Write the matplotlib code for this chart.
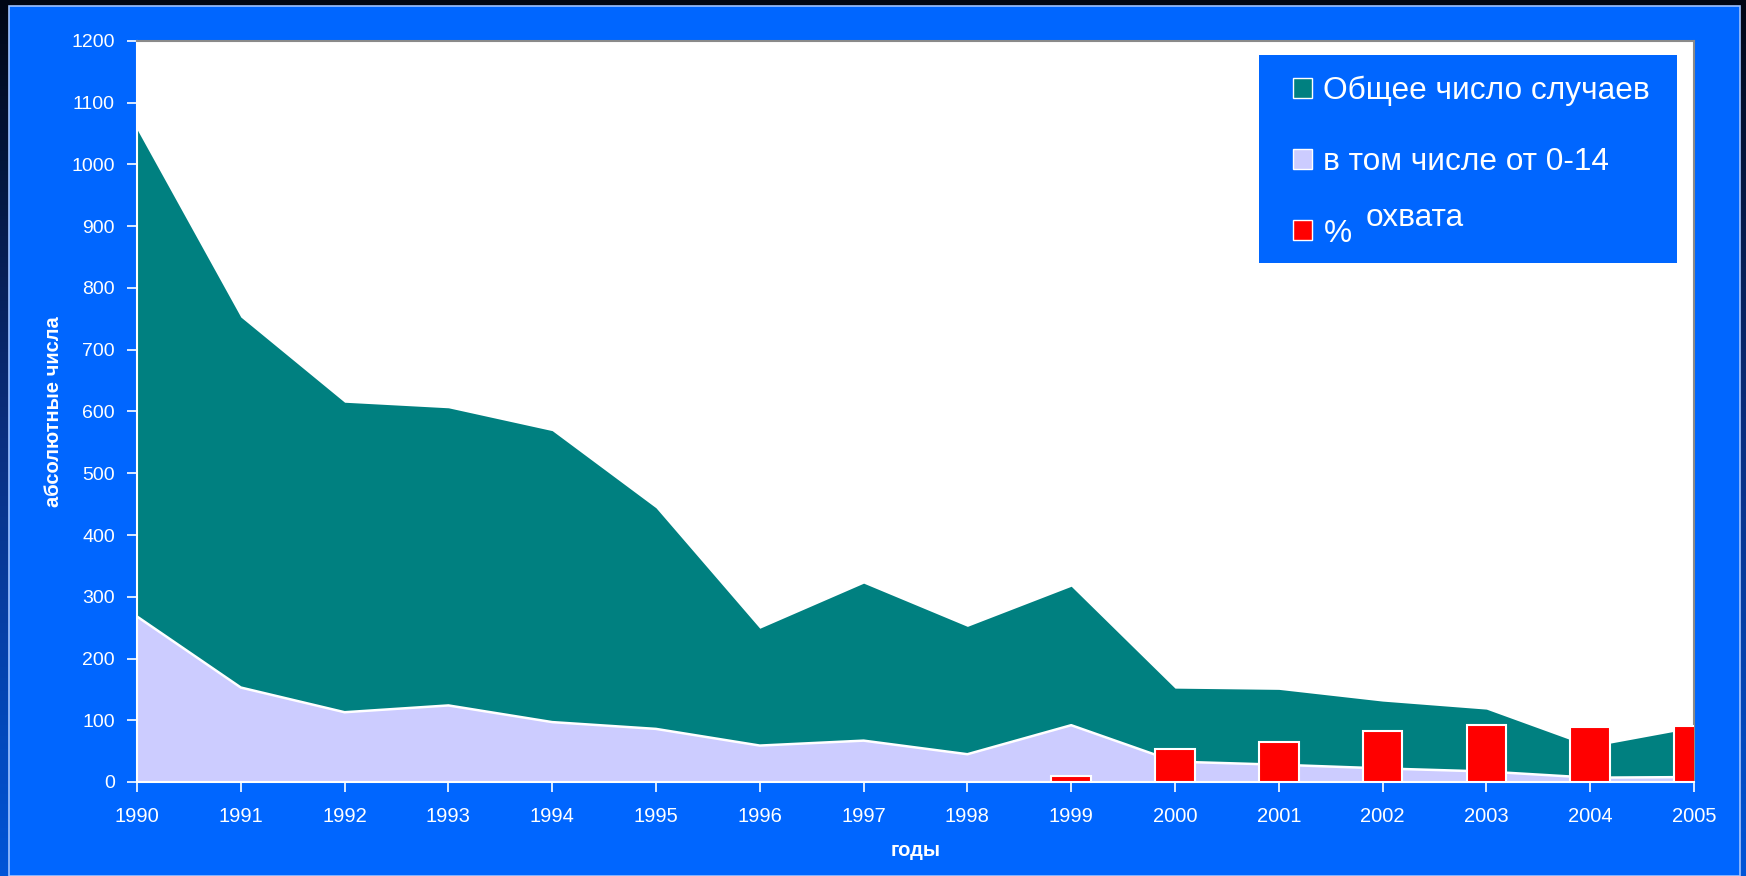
import numpy as np
import matplotlib
matplotlib.use("Agg")
import matplotlib.pyplot as plt
from matplotlib.patches import Patch, Rectangle

plt.rcParams['font.family'] = ['Liberation Sans', 'DejaVu Sans']

# --- DATA ---
years = [1990, 1991, 1992, 1993, 1994, 1995, 1996, 1997,
         1998, 1999, 2000, 2001, 2002, 2003, 2004, 2005]
total_cases = [1057, 753, 615, 606, 569, 444, 249, 322,
               252, 317, 152, 150, 131, 118, 57, 88]
cases_0_14 = [268, 153, 113, 124, 97, 86, 59, 67,
              45, 92, 33, 28, 22, 17, 7, 8]
coverage_years = [1999, 2000, 2001, 2002, 2003, 2004, 2005]
coverage_pct = [10, 54, 65, 82, 93, 89, 91]

BLUE = "#0066FF"
TEAL = "#008080"
LAVENDER = "#CCCCFF"
RED = "#FF0000"

# --- FIGURE / BACKGROUND ---
fig = plt.figure(figsize=(17.46, 8.76), dpi=100)
bg = fig.add_axes([0, 0, 1, 1], zorder=-10)
grad = np.linspace(0, 1, 256).reshape(-1, 1)
bg.imshow(grad, aspect="auto", extent=[0, 1, 0, 1],
          cmap=matplotlib.colors.LinearSegmentedColormap.from_list(
              "edge", ["#000614", "#0a2f80", "#0055d8"]))
bg.add_patch(Rectangle((9 / 1746, 0), (1740 - 9) / 1746, (876 - 6) / 876,
                       facecolor=BLUE, edgecolor="#9ec2ff", linewidth=1.2))
bg.set_xlim(0, 1)
bg.set_ylim(0, 1)
bg.axis("off")

ax = fig.add_axes([137 / 1746, 1 - 782 / 876, (1694 - 137) / 1746, (782 - 41) / 876])
ax.set_facecolor("white")

# --- AREAS ---
ax.fill_between(years, 0, total_cases, color=TEAL, linewidth=0, zorder=1)
ax.fill_between(years, 0, cases_0_14, facecolor=LAVENDER, edgecolor="none", zorder=2)
ax.plot(years, cases_0_14, color="white", linewidth=1.8, zorder=3)

# --- BARS ---
ax.bar(coverage_years, coverage_pct, width=0.38, color=RED,
       edgecolor="white", linewidth=1.5, zorder=4)

# --- AXES ---
ax.set_xlim(1990, 2005)
ax.set_ylim(0, 1200)
ax.set_xticks(years)
ax.set_yticks(np.arange(0, 1201, 100))
ax.tick_params(colors="white", length=7, width=1.2, direction="out")
ax.tick_params(axis="x", labelsize=14.5, pad=11)
ax.tick_params(axis="y", labelsize=14, pad=9)
for side in ["left", "bottom"]:
    ax.spines[side].set_color("white")
    ax.spines[side].set_linewidth(1.5)
for side in ["top", "right"]:
    ax.spines[side].set_color("#8a8a8a")
    ax.spines[side].set_linewidth(1.5)

ax.set_ylabel("абсолютные числа", color="white", fontsize=14.5, fontweight="bold", labelpad=6)
ax.set_xlabel("годы", color="white", fontsize=14.5, fontweight="bold", labelpad=11)

# --- LEGEND ---
ax.add_patch(Rectangle((0.7206, 0.700), 0.989 - 0.7206, 0.981 - 0.700,
                       transform=ax.transAxes, facecolor=BLUE, edgecolor="none",
                       zorder=9))
handles = [
    Patch(facecolor=TEAL, edgecolor="white", linewidth=1),
    Patch(facecolor=LAVENDER, edgecolor="white", linewidth=1),
    Patch(facecolor=RED, edgecolor="white", linewidth=1),
]
labels = ["Общее число случаев", "в том числе от 0-14", "%"]
leg = ax.legend(handles, labels, loc="center left", bbox_to_anchor=(0.7425, 0.8365),
                fontsize=22.8, frameon=False, labelcolor="white",
                handlelength=0.6, handleheight=0.6, handletextpad=0.36,
                labelspacing=1.3, borderpad=0, borderaxespad=0)
leg.set_zorder(10)
ax.text(0.789, 0.761, "охвата", transform=ax.transAxes, color="white",
        fontsize=22.8, ha="left", va="center", zorder=11)

fig.savefig("out.png", dpi=100, facecolor=fig.get_facecolor())
